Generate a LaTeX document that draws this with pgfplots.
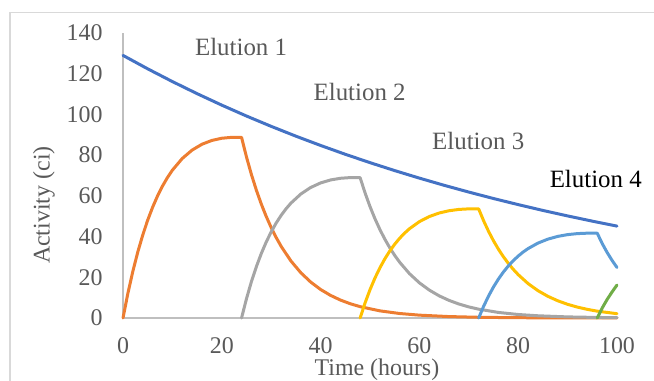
\documentclass[border=0pt]{standalone}
\usepackage{pgfplots}
\pgfplotsset{compat=1.18}
\usepackage{fontspec}
\setmainfont{Liberation Serif}
\definecolor{cBlue}{HTML}{4472C4}
\definecolor{cOrange}{HTML}{ED7D31}
\definecolor{cGray}{HTML}{A5A5A5}
\definecolor{cYellow}{HTML}{FFC000}
\definecolor{cLBlue}{HTML}{5B9BD5}
\definecolor{cGreen}{HTML}{70AD47}
\definecolor{axisGray}{HTML}{BFBFBF}
\definecolor{tickGray}{HTML}{595959}
\definecolor{frameGray}{HTML}{D9D9D9}
\begin{document}
\begin{tikzpicture}
\path[use as bounding box] (-123bp,-63bp) rectangle (531bp,318bp);
\draw[frameGray, line width=1.2bp] (-113bp,-63bp) -- (-113bp,305.5bp) -- (531bp,305.5bp);
\begin{axis}[
  at={(0,0)}, anchor=south west,
  scale only axis, width=494bp, height=285bp,
  xmin=0, xmax=100, ymin=0, ymax=140,
  axis x line=bottom, axis y line=left,
  axis line style={axisGray, line width=1.2bp, -},
  xtick={0,20,40,60,80,100},
  ytick={0,20,40,60,80,100,120,140},
  major tick length=0pt,
  tick style={draw=none},
  /pgf/number format/assume math mode=true,
  ticklabel style={font=\fontsize{24}{26}\selectfont, text=tickGray},
  xticklabel style={yshift=-16bp},
  yticklabel style={xshift=-17bp},
  xlabel={Time (hours)}, ylabel={Activity (ci)},
  label style={font=\fontsize{24}{26}\selectfont, text=tickGray},
  xlabel style={at={(axis description cs:0.514,-0.182)}, anchor=center},
  ylabel style={at={(axis description cs:-0.16,0.396)}, anchor=center, rotate=0},
  clip=false,
  every axis plot/.append style={line width=3bp, line join=round, line cap=round, mark=none},
]
\addplot[cBlue] coordinates {(0,129)(5,122.4)(10,116.14)(15,110.2)(20,104.56)(25,99.21)(30,94.14)(35,89.32)(40,84.76)(45,80.42)(50,76.31)(55,72.41)(60,68.71)(65,65.19)(70,61.86)(75,58.69)(80,55.70)(85,52.84)(90,50.14)(95,47.58)(100,45.15)};
\addplot[cOrange] coordinates {(0,0)(1,12.23)(2,23.0)(3,32.47)(4,40.78)(5,48.07)(6,54.44)(7,59.99)(8,64.82)(9,69.0)(10,72.62)(12,78.37)(14,82.50)(16,85.37)(18,87.23)(20,88.30)(22,88.75)(24,88.73)(25,79.07)(26,70.45)(27,62.78)(28,55.94)(29,49.85)(30,44.41)(31,39.58)(32,35.26)(34,28.0)(36,22.23)(38,17.65)(40,14.01)(42,11.13)(44,8.83)(46,7.01)(48,5.57)(52,3.51)(56,2.21)(60,1.40)(66,0.70)(72,0.35)(80,0.14)(90,0.04)(100,0.01)};
\addplot[cGray] coordinates {(24,0)(25,9.51)(26,17.88)(27,25.24)(28,31.70)(29,37.36)(30,42.31)(31,46.63)(32,50.38)(33,53.63)(34,56.44)(36,60.91)(38,64.12)(40,66.35)(42,67.80)(44,68.63)(46,68.98)(48,68.96)(49,61.45)(50,54.75)(51,48.79)(52,43.48)(53,38.74)(54,34.52)(55,30.76)(56,27.41)(58,21.76)(60,17.28)(62,13.72)(64,10.89)(66,8.65)(68,6.87)(70,5.45)(72,4.33)(76,2.73)(80,1.72)(84,1.09)(90,0.54)(96,0.27)(100,0.17)};
\addplot[cYellow] coordinates {(48,0)(49,7.39)(50,13.89)(51,19.61)(52,24.63)(53,29.04)(54,32.89)(55,36.24)(56,39.16)(57,41.68)(58,43.87)(60,47.34)(62,49.84)(64,51.57)(66,52.69)(68,53.34)(70,53.61)(72,53.60)(73,47.76)(74,42.56)(75,37.92)(76,33.79)(77,30.11)(78,26.83)(79,23.91)(80,21.30)(82,16.91)(84,13.43)(86,10.66)(88,8.47)(90,6.72)(92,5.34)(94,4.24)(96,3.36)(100,2.12)};
\addplot[cLBlue] coordinates {(72,0)(73,5.74)(74,10.80)(75,15.25)(76,19.15)(77,22.57)(78,25.56)(79,28.17)(80,30.43)(81,32.40)(82,34.10)(84,36.80)(86,38.74)(88,40.08)(90,40.96)(92,41.46)(94,41.67)(96,41.66)(97,36.6)(98,32.2)(99,28.3)(100,24.8)};
\addplot[cGreen] coordinates {(96,0)(97,4.9)(98,9.1)(99,12.8)(100,16.2)};
\node[font=\fontsize{25}{27}\selectfont, text=tickGray] at (axis cs:23.9,133.1) {Elution 1};
\node[font=\fontsize{25}{27}\selectfont, text=tickGray] at (axis cs:47.9,111.0) {Elution 2};
\node[font=\fontsize{25}{27}\selectfont, text=tickGray] at (axis cs:71.9,86.9) {Elution 3};
\node[font=\fontsize{25}{27}\selectfont, text=black] at (axis cs:95.7,68.3) {Elution 4};
\end{axis}
\end{tikzpicture}
\end{document}
